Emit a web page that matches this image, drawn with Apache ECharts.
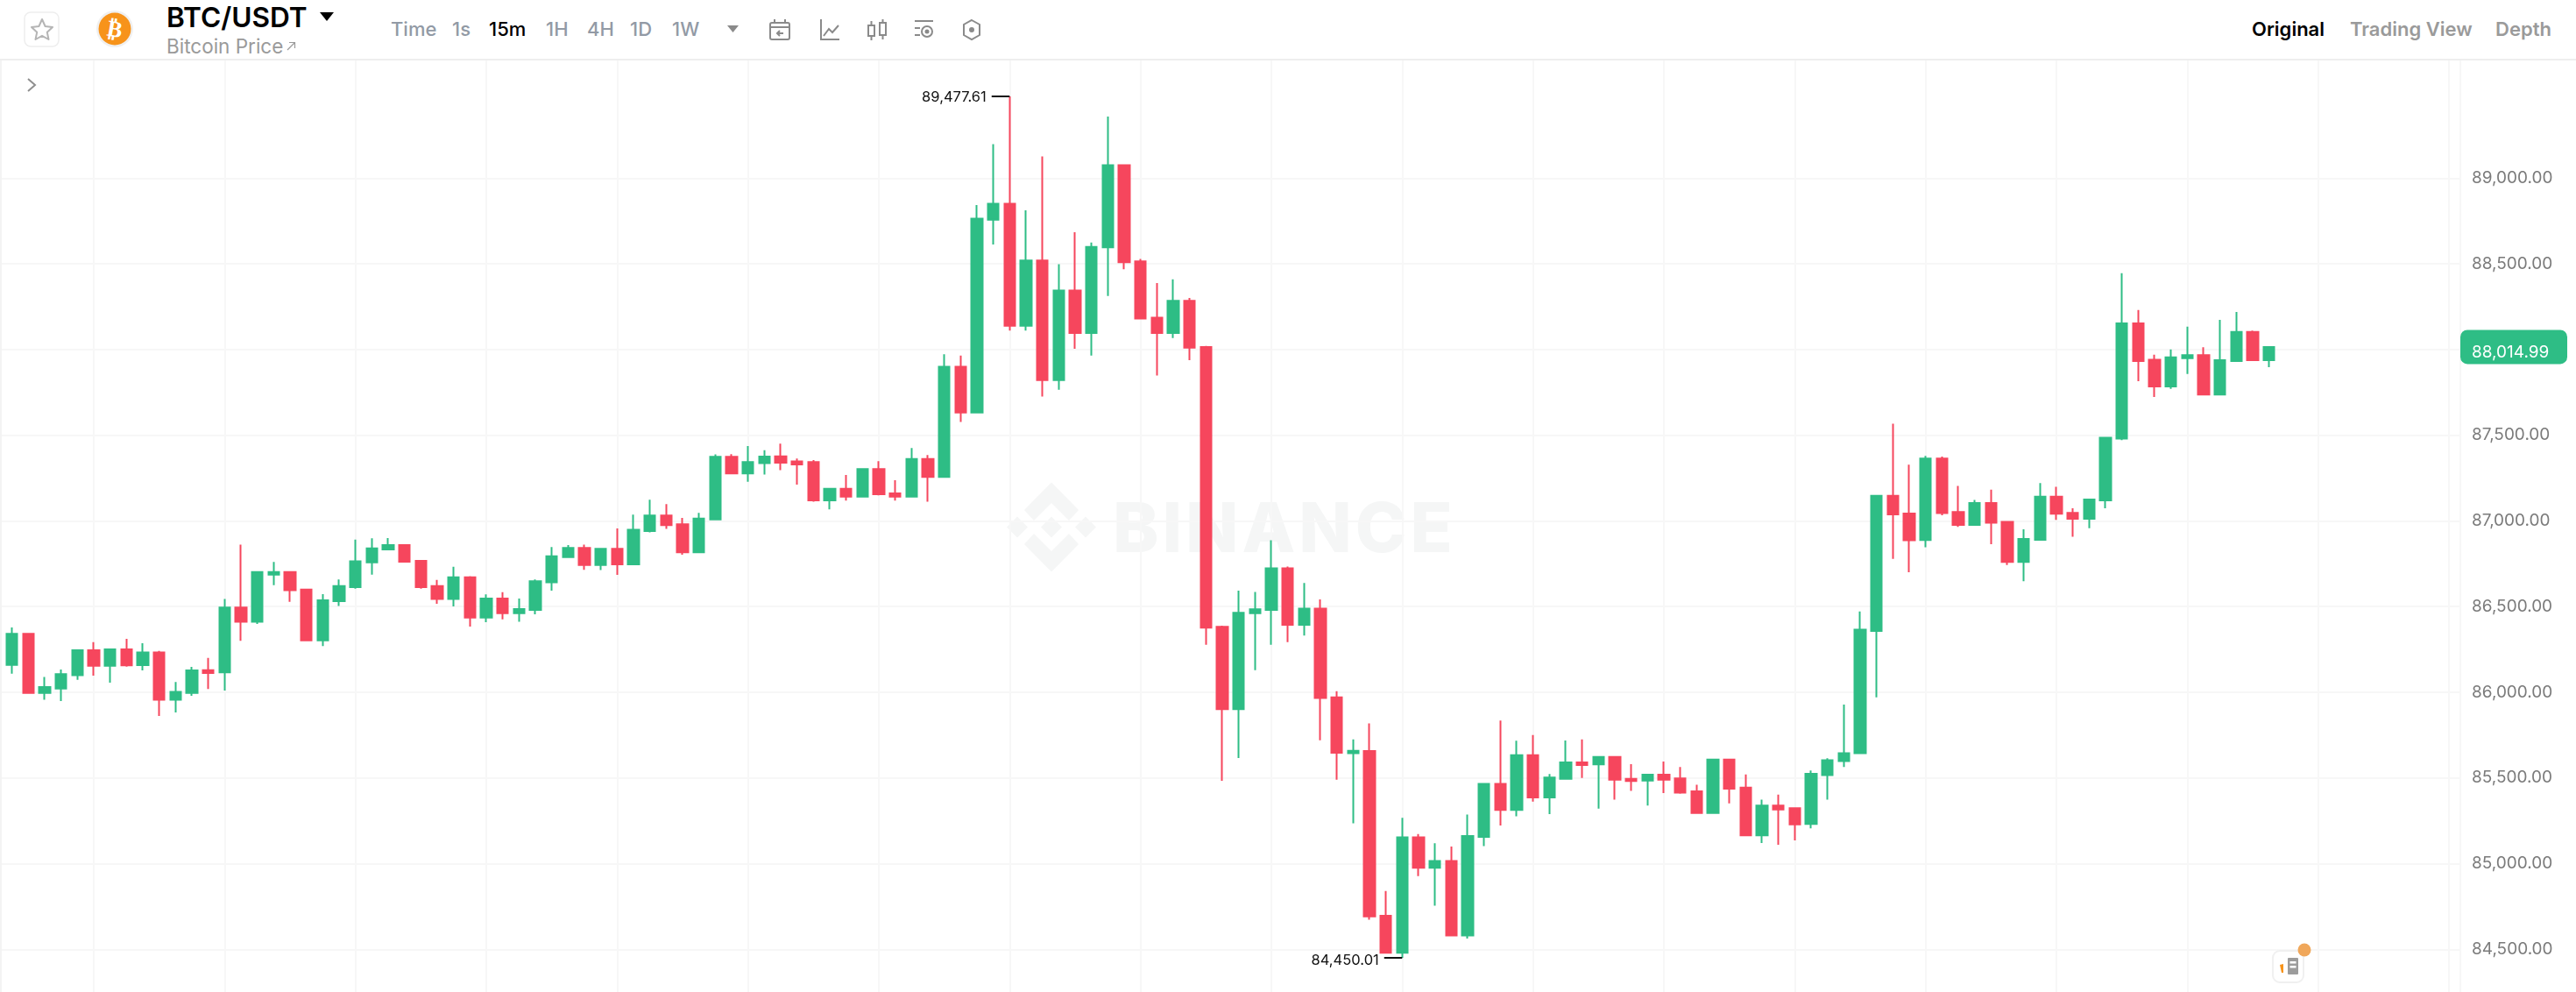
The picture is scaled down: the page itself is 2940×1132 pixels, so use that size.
<!DOCTYPE html>
<html>
<head>
<meta charset="utf-8">
<title>BTC/USDT</title>
<script src="https://cdn.jsdelivr.net/npm/echarts@6/dist/echarts.min.js"></script>
<style>
html, body { margin: 0; padding: 0; background: #fff; overflow: hidden; }
body { width: 2940px; height: 1132px; position: relative; font-family: Inter, "Noto Sans", sans-serif; }
#watermark { position: absolute; left: 0; top: 0; z-index: 1; }
#wmtext { position: absolute; left: 1270px; top: 552px; font: 800 79px/98px Inter, sans-serif; color: #f5f6f6; letter-spacing: 4px; z-index: 1; }
#main { position: absolute; left: 0; top: 0; width: 2940px; height: 1132px; z-index: 2; }
#leftline { position: absolute; left: 0; top: 69px; width: 2px; height: 1063px; background: #f3f3f3; z-index: 3; }
#head { position: absolute; left: 0; top: 0; width: 2940px; height: 67px; background: #fff; border-bottom: 2px solid #eeeeee; z-index: 4; }
#head span, #head svg { position: absolute; white-space: nowrap; }
.tf { top: 20px; font-size: 22px; line-height: 26px; font-weight: 500; color: #929aa5; }
.on { color: #000; }
.mode { top: 20px; font-size: 22px; line-height: 26px; font-weight: 600; color: #9a9a9a; }
#chev, #notes { position: absolute; z-index: 5; }
</style>
</head>
<body>
<svg id="watermark" width="2940" height="1132">
  <g transform="translate(1200,601.5)" fill="#f5f6f6">
    <polygon points="0,-51 31,-19.5 20,-7.5 0,-27.5 -20,-7.5 -31,-19.5"/>
    <polygon points="0,51 31,19.5 20,7.5 0,27.5 -20,7.5 -31,19.5"/>
    <polygon points="0,-12 12,0 0,12 -12,0"/>
    <polygon points="-39,-12 -27,0 -39,12 -51,0"/>
    <polygon points="39,-12 51,0 39,12 27,0"/>
  </g>
</svg>
<div id="wmtext">BINANCE</div>
<div id="main"></div>
<div id="leftline"></div>
<div id="head">
  <svg style="left:27px;top:13px" width="42" height="41">
    <rect x="1" y="1" width="39" height="39" rx="7" fill="#fff" stroke="#eeeeee" stroke-width="1.5"/>
    <polygon points="21,9 24.6,17 33,18 26.8,23.8 28.5,32 21,27.8 13.5,32 15.2,23.8 9,18 17.4,17" fill="none" stroke="#b5b5b5" stroke-width="2" stroke-linejoin="round"/>
  </svg>
  <svg style="left:109px;top:11px" width="44" height="44">
    <circle cx="22" cy="22" r="21" fill="#f0f0f0"/>
    <circle cx="22" cy="22" r="18.5" fill="#f7931a"/>
    <text x="22" y="31" text-anchor="middle" font-size="26" font-weight="700" fill="#fff" font-family="DejaVu Sans" transform="rotate(10 22 22)">₿</text>
  </svg>
  <span style="left:190px;top:1px;font-size:31.6px;line-height:38px;font-weight:600;color:#000">BTC/USDT</span>
  <svg style="left:365px;top:14px" width="16" height="11"><polygon points="0,0 16,0 8,10" fill="#000"/></svg>
  <span style="left:190px;top:39px;font-size:22.5px;line-height:28px;color:#9a9a9a">Bitcoin Price</span>
  <svg style="left:327px;top:47px" width="11" height="11"><path d="M1 10 L9 2 M3 1.5 H9.5 V8" fill="none" stroke="#9a9a9a" stroke-width="1.2"/></svg>
  <span class="tf" style="left:446px">Time</span>
  <span class="tf" style="left:516px">1s</span>
  <span class="tf on" style="left:558px">15m</span>
  <span class="tf" style="left:623px">1H</span>
  <span class="tf" style="left:670px">4H</span>
  <span class="tf" style="left:719px">1D</span>
  <span class="tf" style="left:767px">1W</span>
  <svg style="left:830px;top:29px" width="13" height="8"><polygon points="0,0 13,0 6.5,8" fill="#8a8a8a"/></svg>
  <svg style="left:877px;top:21px" width="26" height="26" fill="none" stroke="#8a8a8a" stroke-width="2">
    <rect x="2" y="5" width="22" height="19" rx="2"/><path d="M2 10 H24 M7 1 V6 M19 1 V6 M17 17 H10 M13 14 L10 17 L13 20"/>
  </svg>
  <svg style="left:935px;top:21px" width="24" height="26" fill="none" stroke="#8a8a8a" stroke-width="2">
    <path d="M2 1 V24 H23 M5 20 L11 12 L15 16 L22 8"/>
  </svg>
  <svg style="left:989px;top:21px" width="24" height="26" fill="none" stroke="#8a8a8a" stroke-width="2">
    <rect x="2" y="8" width="7" height="12"/><path d="M5.500 3 V8 M5.500 20 V25"/>
    <rect x="15" y="5" width="7" height="14"/><path d="M18.500 1 V5 M18.500 19 V24"/>
  </svg>
  <svg style="left:1042px;top:21px" width="25" height="26" fill="none" stroke="#8a8a8a" stroke-width="2">
    <path d="M2 3 H23 M2 11 H8 M2 19 H8"/><circle cx="16" cy="15" r="6"/><circle cx="16" cy="15" r="1.500" fill="#8a8a8a"/>
  </svg>
  <svg style="left:1098px;top:21px" width="22" height="26" fill="none" stroke="#8a8a8a" stroke-width="2">
    <polygon points="11,2 20,7 20,19 11,24 2,19 2,7"/><circle cx="11" cy="13" r="2" fill="#8a8a8a"/>
  </svg>
  <span class="mode" style="left:2570px;color:#000">Original</span>
  <span class="mode" style="left:2682px">Trading View</span>
  <span class="mode" style="left:2848px">Depth</span>
</div>
<svg id="chev" style="left:30px;top:88px" width="12" height="18"><path d="M2 2 L10 9 L2 16" fill="none" stroke="#8f8f8f" stroke-width="2"/></svg>
<svg id="notes" style="left:2592px;top:1074px" width="48" height="50">
  <rect x="2" y="11" width="35" height="36" rx="8" fill="#fff" stroke="#f0f0f0" stroke-width="2"/>
  <rect x="19" y="19" width="12" height="19" rx="1" fill="#9c9c9c"/>
  <rect x="21.500" y="23" width="7" height="2.500" fill="#fff"/><rect x="21.500" y="28" width="7" height="2.500" fill="#fff"/>
  <polygon points="10,27 14,26 14,36 12,36" fill="#f7931a"/>
  <circle cx="38" cy="10" r="7.500" fill="#f0a75a"/>
</svg>
<script>
// 15m candles
var opens = [86160,86341,85996,86022,86099,86245,86155,86250,86158,86233,85957,85996,86129,86116,86494,86412,86687,86702,86600,86303,
  86532,86613,86758,86833,86859,86767,86620,86545,86671,86436,86547,86462,86481,86642,86789,86842,86743,86837,86747,86941,
  87031,86980,86817,87009,87374,87277,87337,87377,87347,87343,87120,87188,87141,87303,87161,87141,87362,87256,87900,87633,
  88757,88851,88139,88519,87822,88345,88096,88596,89076,88514,88186,88096,88284,88014,86382,85901,86462,86481,86723,86394,
  86488,85971,85645,85657,84696,84480,85154,84976,85016,84581,85156,85465,85313,85633,85386,85495,85591,85579,85623,85495,
  85485,85519,85497,85422,85296,85608,85444,85165,85339,85323,85231,85517,85599,85645,86358,87147,87043,86888,87364,87052,
  86977,87105,86994,86760,86890,87142,87047,87013,87120,87480,88153,87940,87785,87950,87967,87737,87933,88103,87938];
var closes = [86341,85996,86031,86106,86245,86155,86250,86157,86233,85957,86003,86128,86112,86494,86412,86702,86702,86595,86303,86537,
  86620,86765,86840,86859,86762,86613,86545,86671,86436,86547,86462,86486,86648,86794,86842,86743,86837,86747,86948,87031,
  86975,86817,87014,87374,87277,87343,87376,87340,87330,87120,87187,87141,87303,87156,87141,87362,87256,87900,87633,88764,
  88851,88139,88519,87822,88345,88096,88599,89076,88509,88181,88096,88284,88011,86377,85901,86464,86485,86723,86394,86488,
  85967,85647,85659,84692,84480,85154,84976,85016,84581,85161,85465,85313,85633,85386,85502,85591,85575,85623,85490,85482,
  85519,85490,85415,85296,85608,85437,85165,85339,85316,85229,85524,85604,85645,86365,87147,87038,86887,87364,87045,86977,
  87105,86989,86760,86895,87142,87042,87013,87125,87485,88153,87933,87785,87955,87967,87737,87938,88103,87938,88014.99];
var lows = [86109,85996,85956,85949,86073,86097,86056,86150,86128,85862,85882,85979,86019,86010,86300,86399,86625,86528,86303,86269,
  86504,86605,86687,86828,86762,86605,86516,86501,86383,86409,86426,86412,86455,86593,86789,86714,86713,86685,86747,86933,
  86953,86803,86817,87009,87277,87229,87270,87296,87212,87112,87067,87118,87139,87149,87118,87141,87112,87256,87577,87633,
  88613,88110,88110,87726,87765,88004,87965,88313,88468,88181,87849,88067,87938,86277,85483,85617,86129,86277,86293,86331,
  85720,85490,85236,84673,84480,84450.01,84927,84755,84577,84563,85102,85223,85276,85362,85289,85490,85500,85321,85373,85424,
  85339,85412,85408,85296,85296,85352,85165,85120,85110,85136,85206,85374,85564,85645,85970,86779,86701,86846,87033,86965,
  86977,86864,86743,86648,86890,87006,86907,86958,87074,87471,87815,87723,87771,87858,87737,87737,87933,87938,87897];
var highs = [86378,86341,86090,86133,86249,86293,86252,86312,86286,86242,86060,86148,86201,86545,86862,86705,86760,86705,86600,86573,
  86658,86891,86898,86900,86859,86767,86656,86733,86677,86571,86584,86547,86658,86847,86859,86862,86842,86956,87037,87123,
  87098,87018,87047,87388,87389,87437,87413,87451,87364,87355,87187,87268,87303,87349,87238,87425,87384,87973,87965,88843,
  89199,89477.61,88812,89127,88498,88684,88625,89359,89076,88529,88388,88410,88301,88021,86389,86593,86586,86887,86734,86638,
  86542,86006,85725,85819,84840,85267,85173,85119,85100,85286,85465,85835,85717,85751,85523,85719,85725,85623,85623,85581,
  85523,85596,85564,85460,85608,85608,85521,85374,85403,85328,85543,85615,85928,86472,87151,87567,87328,87379,87376,87204,
  87122,87182,86994,86951,87221,87199,87074,87125,87485,88446,88231,87970,88000,88134,88013,88173,88219,88110,88014.99];
var yTicks = { min: 84000, max: 90000, step: 500, topShown: 89000 };
var firstSlot = 3, lastSlot = 152.7, slotStep = 8;
var upColor = '#2EBD85', downColor = '#F6465D', gridColor = '#f7f7f7';

function money(v) {
    return v.toLocaleString('en-US', { minimumFractionDigits: 2, maximumFractionDigits: 2 });
}

var candles = opens.map(function (o, i) {
    return [i + firstSlot, o, closes[i], lows[i], highs[i]];
});

// one colour per y tick, the ticks above topShown are not drawn in the reference
var yLineColors = [];
for (var t = yTicks.min; t <= yTicks.max; t += yTicks.step) {
    yLineColors.push(t > yTicks.topShown ? 'transparent' : gridColor);
}

// the two extremes get a short tick and a price next to the wick
function extreme(list, value, labelDy) {
    var x = list.indexOf(value) + firstSlot;
    return [{ coord: [x, value] }, { coord: [x - 1.1, value], label: { formatter: money(value), offset: [0, labelDy] } }];
}

var chart = echarts.init(document.getElementById('main'), null, { backgroundColor: 'transparent' });
chart.setOption({
    animation: false,
    backgroundColor: 'transparent',
    // v6 shrinks the grid to keep labels on the canvas, the top and bottom ticks are meant to fall off it
    grid: { left: -42.35, right: 132, top: 7.74, bottom: -49.1, outerBoundsMode: 'none' },
    xAxis: {
        type: 'value',
        min: 0,
        max: lastSlot,
        interval: slotStep,
        axisLine: { show: false },
        axisTick: { show: false },
        axisLabel: { show: false },
        splitLine: { show: true, lineStyle: { color: gridColor, width: 2 } }
    },
    yAxis: {
        type: 'value',
        position: 'right',
        min: yTicks.min,
        max: yTicks.max,
        interval: yTicks.step,
        axisLine: { show: true, lineStyle: { color: '#f3f3f3', width: 2 } },
        axisTick: { show: false },
        axisLabel: {
            margin: 13,
            color: '#7b7b7b',
            fontFamily: 'Inter',
            fontSize: 19,
            padding: [3, 0, 0, 0],
            formatter: function (v) {
                return v > yTicks.topShown ? '' : money(v);
            }
        },
        splitLine: { show: true, lineStyle: { color: yLineColors, width: 2 } }
    },
    series: [{
        type: 'candlestick',
        barWidth: 13,
        encode: { x: 0, y: [1, 2, 3, 4] },
        itemStyle: {
            color: upColor,
            color0: downColor,
            borderColor: upColor,
            borderColor0: downColor,
            borderWidth: 2
        },
        data: candles,
        markLine: {
            silent: true,
            symbol: 'none',
            lineStyle: { color: '#111', width: 2, type: 'solid' },
            label: { color: '#111', fontFamily: 'Inter', fontSize: 16.5, position: 'end', distance: 6 },
            data: [extreme(highs, 89477.61, 1), extreme(lows, 84450.01, 3)]
        }
    }]
});

// last price tag on the price axis
var lastClose = closes[closes.length - 1];
var tagY = chart.convertToPixel({ yAxisIndex: 0 }, lastClose);
chart.setOption({
    graphic: [
        { type: 'rect', left: 2808, top: tagY - 19.5, shape: { width: 122, height: 39, r: 8 }, style: { fill: upColor }, z: 20 },
        { type: 'text', left: 2821, top: tagY - 3, style: { text: money(lastClose), fill: '#fff', font: '19px Inter' }, z: 21 }
    ]
});
</script>
</body>
</html>
